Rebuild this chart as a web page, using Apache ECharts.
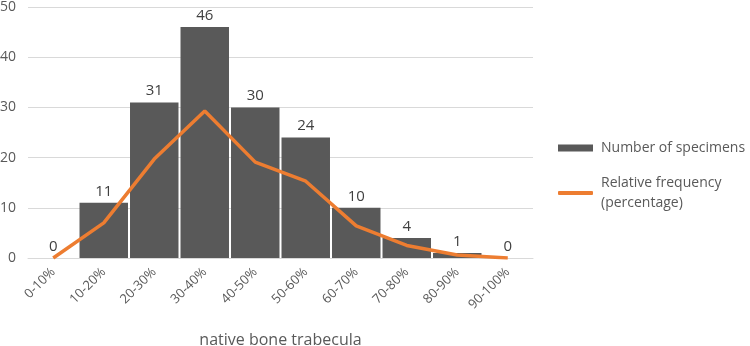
<!DOCTYPE html>
<html>
<head>
<meta charset="utf-8">
<script src="https://cdn.jsdelivr.net/npm/echarts@6/dist/echarts.min.js"></script>
<style>
  html, body { margin: 0; padding: 0; background: #fff; }
  #main { width: 750px; height: 346px; }
</style>
</head>
<body>
<div id="main"></div>
<script>
var categories = ['0-10%', '10-20%', '20-30%', '30-40%', '40-50%', '50-60%', '60-70%', '70-80%', '80-90%', '90-100%'];
var specimens = [0, 11, 31, 46, 30, 24, 10, 4, 1, 0];
var relFreq = [0, 7.0, 19.7, 29.3, 19.1, 15.3, 6.4, 2.5, 0.6, 0];
var yTicks = [0, 10, 20, 30, 40, 50];

var chart = echarts.init(document.getElementById('main'));
var font = '"Open Sans", "Noto Sans", sans-serif';
var option = {
    animation: false,
    textStyle: { fontFamily: font },
    grid: {
        left: 28,
        right: 217,
        top: 7,
        bottom: 88,
        containLabel: false,
        outerBoundsMode: 'none'
    },
    legend: [{
        data: ['Number of specimens'],
        orient: 'vertical',
        left: 558,
        top: 139,
        padding: 0,
        icon: 'rect',
        itemWidth: 35,
        itemHeight: 7,
        textStyle: { color: '#595959', fontSize: 14, lineHeight: 18, padding: [0, 0, 0, 3], fontFamily: font }
    }, {
        data: ['Relative frequency\n(percentage)'],
        orient: 'vertical',
        left: 558,
        top: 163,
        padding: 0,
        icon: 'roundRect',
        itemWidth: 35,
        itemHeight: 4,
        textStyle: { color: '#595959', fontSize: 14, lineHeight: 20, padding: [20, 0, 0, 3], fontFamily: font }
    }],
    xAxis: {
        type: 'category',
        data: categories,
        name: 'native bone trabecula',
        nameLocation: 'middle',
        nameGap: 74,
        nameTextStyle: { color: '#595959', fontSize: 16, fontFamily: font },
        axisLine: { lineStyle: { color: '#d9d9d9', width: 1 } },
        axisTick: { show: false },
        axisLabel: {
            rotate: 45,
            color: '#595959',
            fontSize: 13,
            margin: 12,
            interval: 0,
            fontFamily: font
        }
    },
    yAxis: {
        type: 'value',
        min: yTicks[0],
        max: yTicks[yTicks.length - 1],
        interval: 10,
        axisLine: { show: false },
        axisTick: { show: false },
        splitLine: { lineStyle: { color: '#d9d9d9', width: 1 } },
        axisLabel: { color: '#595959', fontSize: 14, margin: 12, fontFamily: font }
    },
    series: [{
        name: 'Number of specimens',
        type: 'bar',
        data: specimens,
        barCategoryGap: '4%',
        itemStyle: { color: '#595959' },
        label: {
            show: true,
            position: 'top',
            color: '#404040',
            fontSize: 15,
            distance: 4,
            fontFamily: font
        }
    }, {
        name: 'Relative frequency\n(percentage)',
        type: 'line',
        data: relFreq,
        symbol: 'none',
        lineStyle: { color: '#ED7D31', width: 3.5 },
        itemStyle: { color: '#ED7D31' }
    }]
};
chart.setOption(option);
</script>
</body>
</html>
